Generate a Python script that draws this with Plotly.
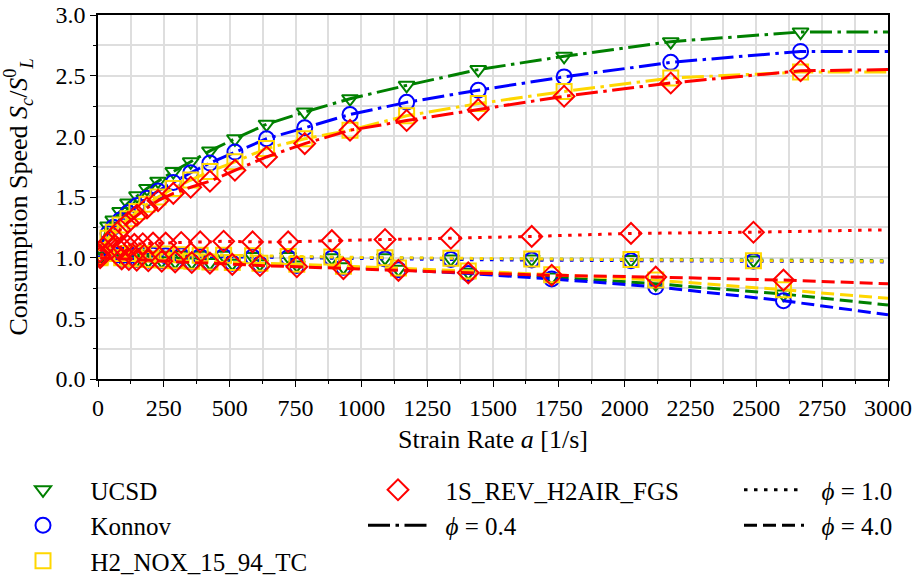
import plotly.graph_objects as go

# ---------------- data ----------------
mechanisms = ["UCSD", "Konnov", "H2_NOX_15_94_TC", "1S_REV_H2AIR_FGS"]
colors = ["#008000", "#0000ff", "#ffd700", "#ff0000"]
symbols = ["triangle-down-open", "circle-open", "square-open", "diamond-open"]
msizes = [14, 15, 15, 16]

# phi = 0.4 (dash-dot)
x_phi04 = [8, 38, 58, 84, 114, 148, 186, 228, 286, 352, 425, 520, 640, 785, 957,
           1172, 1444, 1770, 2175, 2668, 3000]
ucsd_phi04 = [1.08, 1.26, 1.31, 1.38, 1.45, 1.51, 1.57, 1.63, 1.71, 1.79, 1.88, 1.98,
              2.10, 2.20, 2.31, 2.42, 2.55, 2.66, 2.78, 2.86, 2.86]
konnov_phi04 = [1.07, 1.20, 1.25, 1.31, 1.37, 1.43, 1.49, 1.55, 1.62, 1.70, 1.78, 1.87,
                1.98, 2.07, 2.18, 2.28, 2.38, 2.49, 2.61, 2.70, 2.70]
nox_phi04 = [1.06, 1.16, 1.21, 1.27, 1.32, 1.38, 1.44, 1.50, 1.57, 1.64, 1.71, 1.79,
             1.90, 1.98, 2.05, 2.17, 2.27, 2.37, 2.48, 2.53, 2.53]
s1_phi04 = [1.05, 1.12, 1.17, 1.23, 1.29, 1.35, 1.41, 1.47, 1.53, 1.58, 1.63, 1.72,
            1.83, 1.94, 2.05, 2.13, 2.22, 2.33, 2.44, 2.54, 2.55]

# phi = 1.0 (dotted)
x_phi10 = [8, 74, 91, 112, 138, 170, 209, 257, 316, 388, 477, 587, 722, 888, 1090,
           1340, 1647, 2024, 2489, 3000]
ucsd_phi10 = [1.01, 1.03, 1.03, 1.03, 1.03, 1.03, 1.02, 1.02, 1.02, 1.02, 1.02, 1.01,
              1.01, 1.00, 1.00, 0.99, 0.99, 0.985, 0.98, 0.975]
konnov_phi10 = [1.01, 1.025, 1.025, 1.025, 1.02, 1.02, 1.02, 1.015, 1.015, 1.01, 1.01,
                1.005, 1.0, 0.995, 0.99, 0.985, 0.98, 0.975, 0.97, 0.965]
nox_phi10 = [1.01, 1.035, 1.035, 1.035, 1.035, 1.03, 1.03, 1.03, 1.025, 1.02, 1.02,
             1.015, 1.01, 1.005, 1.0, 0.995, 0.99, 0.985, 0.975, 0.97]
s1_phi10 = [1.02, 1.08, 1.09, 1.10, 1.11, 1.115, 1.12, 1.12, 1.125, 1.13, 1.135, 1.13,
            1.13, 1.14, 1.15, 1.16, 1.175, 1.20, 1.21, 1.23]

# phi = 4.0 (dashed)
x_phi40 = [8, 90, 117, 147, 191, 242, 293, 356, 425, 510, 615, 755, 932, 1141, 1406,
           1723, 2118, 2603, 3000]
ucsd_phi40 = [1.0, 0.995, 0.99, 0.985, 0.98, 0.975, 0.97, 0.965, 0.96, 0.955, 0.95,
              0.94, 0.925, 0.905, 0.88, 0.84, 0.785, 0.70, 0.61]
konnov_phi40 = [1.0, 0.99, 0.99, 0.985, 0.98, 0.975, 0.97, 0.965, 0.96, 0.955, 0.945,
                0.935, 0.92, 0.90, 0.87, 0.825, 0.76, 0.645, 0.53]
nox_phi40 = [1.0, 1.0, 0.995, 0.99, 0.985, 0.98, 0.975, 0.97, 0.965, 0.96, 0.955,
             0.945, 0.93, 0.915, 0.89, 0.86, 0.815, 0.735, 0.665]
s1_phi40 = [1.0, 0.99, 0.985, 0.98, 0.975, 0.97, 0.965, 0.96, 0.955, 0.945, 0.935,
            0.925, 0.91, 0.895, 0.875, 0.855, 0.84, 0.815, 0.785]

phi_labels = ["<i>ϕ</i> = 0.4", "<i>ϕ</i> = 1.0", "<i>ϕ</i> = 4.0"]
x_ticks = [0, 250, 500, 750, 1000, 1250, 1500, 1750, 2000, 2250, 2500, 2750, 3000]
y_ticks = [0.0, 0.5, 1.0, 1.5, 2.0, 2.5, 3.0]

# ---------------- styles ----------------
dashes = ["22px,5.5px,3.5px,5.5px", "3.5px,6.5px", "13px,6px"]
LW = 3
FONT = "Liberation Serif"
NB = "\u00a0\u00a0"

series = {
    0: [ucsd_phi04, ucsd_phi10, ucsd_phi40],
    1: [konnov_phi04, konnov_phi10, konnov_phi40],
    2: [nox_phi04, nox_phi10, nox_phi40],
    3: [s1_phi04, s1_phi10, s1_phi40],
}
xs = [x_phi04, x_phi10, x_phi40]

fig = go.Figure()
for m in range(4):
    for p in range(3):
        fig.add_trace(go.Scatter(
            x=xs[p], y=series[m][p], mode="lines",
            line=dict(color=colors[m], width=LW, dash=dashes[p]),
            showlegend=False, hoverinfo="skip"))
    for p in range(3):
        fig.add_trace(go.Scatter(
            x=xs[p][:-1], y=series[m][p][:-1], mode="markers",
            marker=dict(symbol=symbols[m], size=msizes[m],
                        color=colors[m], line=dict(color=colors[m], width=2)),
            showlegend=False, hoverinfo="skip"))

# legend entries
legend_of = ["legend", "legend", "legend", "legend2"]
for m in range(4):
    fig.add_trace(go.Scatter(
        x=[None], y=[None], mode="markers", name=NB + mechanisms[m],
        marker=dict(symbol=symbols[m], size=msizes[m], color=colors[m],
                    line=dict(color=colors[m], width=2)),
        legend=legend_of[m], legendgroup="m%d" % m, showlegend=True))
phi_legend = ["legend2", "legend3", "legend3"]
for p in range(3):
    fig.add_trace(go.Scatter(
        x=[None], y=[None], mode="lines", name=NB + phi_labels[p],
        line=dict(color="black", width=LW, dash=dashes[p]),
        legend=phi_legend[p], legendgroup="p%d" % p, showlegend=True))

axis_common = dict(
    showline=True, linecolor="black", linewidth=1.5, mirror=True,
    ticks="outside", ticklen=6, tickwidth=1.2, tickcolor="black",
    showgrid=True, gridcolor="#dedede", gridwidth=1.5,
    zeroline=False, ticklabeloverflow="allow",
    tickfont=dict(family=FONT, size=24, color="black"),
)

fig.update_xaxes(
    range=[0, 3000], tickvals=x_ticks, ticktext=[str(v) for v in x_ticks],
    minor=dict(dtick=125, tick0=0, ticks="outside", ticklen=3.5, tickcolor="black",
               showgrid=True, gridcolor="#dedede", gridwidth=1.5),
    title=dict(text="Strain Rate <i>a</i> [1/s]", font=dict(family=FONT, size=26, color="black"),
               standoff=10),
    **axis_common)
fig.update_yaxes(
    range=[0, 3.0], tickvals=y_ticks, ticktext=[f"{v:.1f}" for v in y_ticks],
    minor=dict(dtick=0.25, tick0=0, ticks="outside", ticklen=3.5, tickcolor="black",
               showgrid=True, gridcolor="#dedede", gridwidth=1.5),
    title=dict(text="Consumption Speed <i>S<sub>c</sub></i>/<i>S</i><sup>0</sup><sub><i>L</i></sub>",
               font=dict(family=FONT, size=26, color="black"), standoff=20),
    **axis_common)

# plot area spans window pixels x 98..888, y 15..379 (page body margin removed)
W, H = 917, 578
ML, MT, MR, MB = 98, 15, 917 - 888, 578 - 379
PW = 888 - 98
PH = 379 - 15


def px_x(p):
    return (p - 98) / PW


def px_y(p):
    return (379 - p) / PH


leg_common = dict(orientation="v", bgcolor="rgba(0,0,0,0)", borderwidth=0,
                  font=dict(family=FONT, size=25, color="black"),
                  xanchor="left", yanchor="top",
                  itemwidth=60, tracegroupgap=0, itemsizing="trace")
fig.update_layout(
    width=W, height=H,
    margin=dict(l=ML, r=MR, t=MT, b=MB, autoexpand=False),
    plot_bgcolor="white", paper_bgcolor="white",
    font=dict(family=FONT, color="black"),
    legend=dict(x=px_x(8), y=px_y(467), **leg_common),
    legend2=dict(x=px_x(363), y=px_y(467), **leg_common),
    legend3=dict(x=px_x(739), y=px_y(467), **leg_common),
)

fig.write_html("out.html", config={"displayModeBar": False},
               post_script="document.body.style.margin='0';")
